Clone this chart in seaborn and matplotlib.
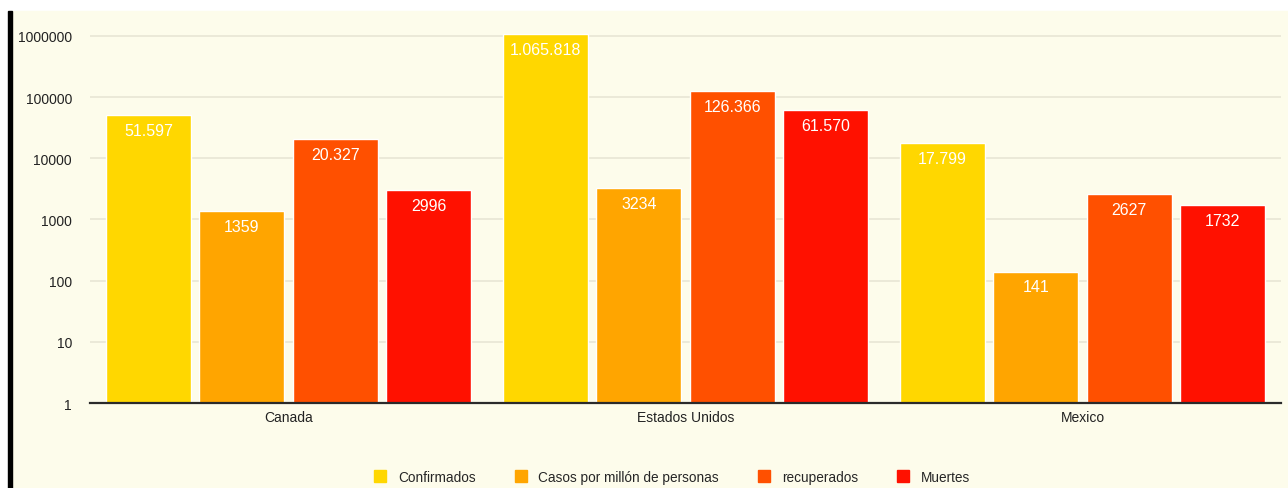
import matplotlib
matplotlib.use("Agg")
import pandas as pd
import matplotlib.pyplot as plt
import seaborn as sns
from matplotlib.patches import Rectangle
from matplotlib.lines import Line2D

# ------------------------ datos ------------------------
paises = ["Canada", "Estados Unidos", "Mexico"]
series = ["Confirmados", "Casos por millón de personas", "recuperados", "Muertes"]
confirmados = [51597, 1065818, 17799]
casos_millon = [1359, 3234, 141]
recuperados = [20327, 126366, 2627]
muertes = [2996, 61570, 1732]
y_ticks = [1, 10, 100, 1000, 10000, 100000, 1000000]

colores = ["#FFD700", "#FFA500", "#FF5000", "#FF1100"]
fondo = "#FDFCEB"

valores = [confirmados, casos_millon, recuperados, muertes]
df = pd.DataFrame({
    "pais": paises * len(series),
    "serie": [s for s in series for _ in paises],
    "valor": [v for vals in valores for v in vals],
})


def fmt(v):
    # separador de miles con punto solo a partir de 10000
    return f"{v:,}".replace(",", ".") if v >= 10000 else str(v)


# ------------------------ figura ------------------------
sns.set_style("white")
plt.rcParams["font.family"] = ["Liberation Sans", "DejaVu Sans"]

fig = plt.figure(figsize=(12.88, 4.89), dpi=100, facecolor="white")
# fondo crema + barra negra a la izquierda
fig.patches.append(Rectangle((12 / 1288, 0), 1 - 12 / 1288, 1 - 12 / 489,
                             transform=fig.transFigure, color=fondo, zorder=-2))
fig.patches.append(Rectangle((8 / 1288, 0), 4 / 1288, 1 - 12 / 489,
                             transform=fig.transFigure, color="black", zorder=-1))

ax = fig.add_axes([90 / 1288, 1 - 404 / 489, 1191 / 1288, 392 / 489])
ax.set_facecolor(fondo)
ax.set_yscale("log")

sns.barplot(data=df, x="pais", y="valor", hue="serie", hue_order=series,
            order=paises, palette=colores, width=0.94, gap=0.09,
            saturation=1, legend=False, ax=ax)

ax.set_ylim(1, 10 ** (392 / 61.17))
ax.set_xlim(-0.5, 2.5)
ax.set_yticks(y_ticks)
ax.set_yticklabels([str(t) for t in y_ticks])
ax.minorticks_off()
ax.tick_params(axis="y", length=0, pad=13, labelsize=10, colors="#222222")
ax.tick_params(axis="x", length=0, pad=5, labelsize=10, colors="#222222")
ax.set_xlabel("")
ax.set_ylabel("")
ax.yaxis.grid(True, color="#E8E6D5", linewidth=1.2)
ax.set_axisbelow(True)
for s in ["top", "right", "left"]:
    ax.spines[s].set_visible(False)
ax.spines["bottom"].set_color("#2a2a2a")
ax.spines["bottom"].set_linewidth(1.6)

# etiquetas dentro de las barras
for cont, vals in zip(ax.containers, valores):
    for rect, v in zip(cont, vals):
        ax.annotate(fmt(v), (rect.get_x() + rect.get_width() / 2, rect.get_height()),
                    xytext=(0, -11), textcoords="offset points",
                    ha="center", va="center", color="white", fontsize=11.5)

# leyenda
handles = [Line2D([], [], marker="s", linestyle="", markersize=9,
                  markerfacecolor=c, markeredgecolor=c) for c in colores]
fig.legend(handles, series, loc="center", bbox_to_anchor=(0.522, 1 - 478 / 489),
           ncol=4, frameon=False, fontsize=9.8, handlelength=0.8,
           handletextpad=0.9, columnspacing=2.9)

fig.savefig("out.png", dpi=100, facecolor="white")
